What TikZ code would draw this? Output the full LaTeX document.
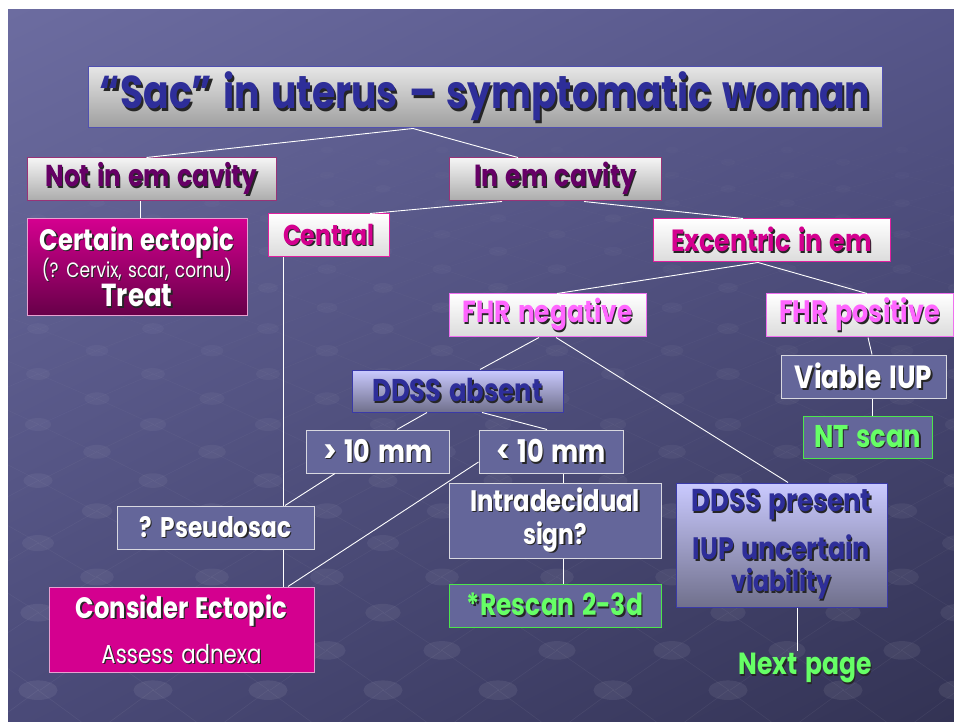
\documentclass[tikz,border=0pt]{standalone}
\usepackage{fontspec}
\setmainfont{Poppins}[WordSpace=1.4]
\usepackage{graphicx}
\usetikzlibrary{shadings}
\definecolor{bgUL}{HTML}{6C6CA0}
\definecolor{bgUR}{HTML}{56568A}
\definecolor{bgLL}{HTML}{4A4A78}
\definecolor{bgLR}{HTML}{333354}
\definecolor{titletext}{HTML}{2E2E99}
\definecolor{titleborder}{HTML}{5050B0}
\definecolor{purpletext}{HTML}{660066}
\definecolor{purpleborder}{HTML}{993377}
\definecolor{magtext}{HTML}{D4008F}
\definecolor{magborder}{HTML}{E0209F}
\definecolor{pinktext}{HTML}{FF66FF}
\definecolor{pinkborder}{HTML}{F070F0}
\definecolor{slate}{HTML}{64669A}
\definecolor{slateborder}{HTML}{D8D8E0}
\definecolor{greentext}{HTML}{66FF66}
\definecolor{greenborder}{HTML}{4CE64C}
\definecolor{ddsstop}{HTML}{CACAFF}
\definecolor{ddssbot}{HTML}{70708C}
\definecolor{ddssborder}{HTML}{3A3AA8}
\definecolor{magtop}{HTML}{D4008F}
\definecolor{magbot}{HTML}{660048}
\definecolor{lightpink}{HTML}{E8A0D0}
\newcommand\fw[2]{\resizebox{#1pt}{!}{\scalebox{1}[1.22]{#2}}}
\newcommand\sh[2]{\rlap{\kern1.1pt\raisebox{-1.1pt}{\color{black!85}#2}}{\color{#1}#2}}
\begin{document}
\begin{tikzpicture}[x=1pt,y=-1pt,
  sz/.style 2 args={minimum width=#1pt, minimum height=#2pt},
  base/.style={inner sep=0pt, align=center, line width=1pt, font=\fontsize{20}{24}\selectfont\bfseries},
  titlebox/.style={base, draw=titleborder, top color=black!10, bottom color=black!38},
  greybox/.style={base, draw=purpleborder, top color=black!4, bottom color=black!33},
  whitebox/.style={base, draw=magborder, top color=white, bottom color=black!14},
  pinkbox/.style={base, draw=pinkborder, top color=white, bottom color=black!14},
  slatebox/.style={base, draw=slateborder, fill=slate},
  greenbox/.style={base, draw=greenborder, fill=slate},
  ddssbox/.style={base, draw=ddssborder, top color=ddsstop, bottom color=ddssbot},
  magshade/.style={base, draw=lightpink, top color=magtop, bottom color=magbot},
  magsolid/.style={base, draw=lightpink, fill=magtop},
  conn/.style={draw=white, line width=0.9pt},
  bgdot/.style={fill=white},
  bgline/.style={draw=white, line width=0.6pt}
]
\useasboundingbox (0,0) rectangle (954,722);
\shade[upper left=bgUL, upper right=bgUR, lower left=bgLL, lower right=bgLR] (8,10) rectangle (954,722);

% background lattice decoration
\begin{scope}
\clip (8,10) rectangle (954,722);
\foreach \y/\ny [count=\j] in {150/162.25,162.25/175.2,175.2/188.8,188.8/203.2,203.2/218.4,218.4/234.4,234.4/251.3,251.3/269.1,269.1/287.9,287.9/307.7,307.7/328.6,328.6/350.7,350.7/374,374/398.6,398.6/424.5,424.5/451.8,451.8/480.6,480.6/511,511/543.1,543.1/577,577/612.7,612.7/650.4,650.4/690.2,690.2/732}{
  \pgfmathtruncatemacro\pp{mod(\j,2)}
  \pgfmathsetmacro\xo{\pp==0 ? 38 : 97}
  \pgfmathsetmacro\rx{0.024*\y+3}
  \pgfmathsetmacro\op{0.015+0.06*(\y-150)/570}
  \foreach \k in {-1,...,8}{
    \draw[bgline, opacity=0.8*\op] ({\xo+115*\k},\y) -- ({\xo+115*\k+57},\ny);
    \draw[bgline, opacity=0.8*\op] ({\xo+115*\k},\y) -- ({\xo+115*\k-57},\ny);
    \fill[bgdot, opacity=\op] ({\xo+115*\k},\y) ellipse [x radius=\rx pt, y radius=0.5*\rx pt];
  }
}
\end{scope}

% nodes
\node[titlebox, sz={794}{61}] (title) at (485,97.5) {\raisebox{-4pt}{\fw{770}{\sh{titletext}{“Sac” in uterus – symptomatic woman}}}};
\node[greybox, sz={249}{43}] (notin) at (151.5,179.5) {\fw{212}{\sh{purpletext}{Not in em cavity}}};
\node[greybox, sz={212}{43}] (inem) at (555,179.5) {\fw{162}{\sh{purpletext}{In em cavity}}};
\node[magshade, sz={220}{97}, font=\fontsize{20}{26.5}\selectfont\bfseries] (certain) at (137,267.5)
  {\fw{194}{\sh{white}{Certain ectopic}}\\[-3pt]\fw{190}{\mdseries\sh{white}{(? Cervix, scar, cornu)}}\\[1pt]\fw{71}{\sh{white}{Treat}}};
\node[whitebox, sz={121}{43}] (central) at (328.5,235.5) {\fw{91}{\sh{magtext}{Central}}};
\node[whitebox, sz={237}{43}] (excentric) at (771.5,240.5) {\fw{201}{\sh{magtext}{Excentric in em}}};
\node[pinkbox, sz={197}{43}] (fhrneg) at (547.5,315.5) {\fw{170}{\sh{pinktext}{FHR negative}}};
\node[pinkbox, sz={187}{43}] (fhrpos) at (859.5,315.5) {\fw{161}{\sh{pinktext}{FHR positive}}};
\node[slatebox, sz={165}{43}] (viable) at (863.5,376.5) {\fw{137}{\sh{white}{Viable IUP}}};
\node[greenbox, sz={129}{42}] (nt) at (867.5,437) {\fw{107}{\sh{greentext}{NT scan}}};
\node[ddssbox, sz={211}{42}] (ddssabs) at (457.5,391) {\fw{170}{\sh{titletext}{DDSS absent}}};
\node[slatebox, sz={143}{43}] (gt) at (377.5,451.5) {\fw{109}{\sh{white}{> 10 mm}}};
\node[slatebox, sz={144}{43}] (lt) at (551,451.5) {\fw{110}{\sh{white}{< 10 mm}}};
\node[slatebox, sz={212}{75}, font=\fontsize{20}{33}\selectfont\bfseries] (intra) at (555,520.5)
  {\fw{170}{\sh{white}{Intradecidual}}\\\fw{64}{\sh{white}{sign?}}};
\node[greenbox, sz={212}{43}] (rescan) at (555,605.5) {\fw{176}{\sh{greentext}{*Rescan 2-3d}}};
\node[ddssbox, sz={211}{124}, font=\fontsize{20}{32}\selectfont\bfseries] (ddsspres) at (781.5,545)
  {\fw{180}{\sh{titletext}{DDSS present}}\\[12pt]\fw{177}{\sh{titletext}{IUP uncertain}}\\\fw{100}{\sh{titletext}{viability}}};
\node[slatebox, sz={197}{43}] (pseudo) at (215.5,527.5) {\fw{152}{\sh{white}{? Pseudosac}}};
\node[magsolid, sz={265}{85}, font=\fontsize{20}{45}\selectfont\bfseries] (consider) at (181.5,629.5)
  {\fw{211}{\sh{white}{Consider Ectopic}}\\\fw{160}{\mdseries\sh{white}{Assess adnexa}}};
\node[base, inner sep=2pt] (nextpage) at (805,669) {\fw{133}{\sh{greentext}{Next page}}};

% connectors
\draw[conn] ([xshift=-72pt]title.south) -- ([xshift=-5pt]notin.north);
\draw[conn] ([xshift=-72pt]title.south) -- ([xshift=-37pt]inem.north);
\draw[conn] ([xshift=-11.5pt]notin.south) -- ([xshift=3pt]certain.north);
\draw[conn] ([xshift=-53pt]inem.south) -- ([xshift=41.5pt]central.north);
\draw[conn] ([xshift=29pt]inem.south) -- ([xshift=-28.5pt]excentric.north);
\draw[conn] ([xshift=-13.5pt]excentric.south) -- ([xshift=9.5pt]fhrneg.north);
\draw[conn] ([xshift=-13.5pt]excentric.south) -- ([xshift=7.5pt]fhrpos.north);
\draw[conn] ([xshift=8.5pt]fhrpos.south) -- ([xshift=8.5pt]viable.north);
\draw[conn] ([xshift=8.5pt]viable.south) -- ([xshift=4.5pt]nt.north);
\draw[conn] ([xshift=-8.5pt]fhrneg.south) -- ([xshift=22.5pt]ddssabs.north);
\draw[conn] ([xshift=8.5pt]fhrneg.south) -- ([xshift=6.5pt]ddsspres.north);
\draw[conn] ([xshift=-30.5pt]ddssabs.south) -- ([xshift=19.5pt]gt.north);
\draw[conn] ([xshift=24.5pt]ddssabs.south) -- ([xshift=-4pt]lt.north);
\draw[conn] ([xshift=12pt]lt.south) -- ([xshift=8pt]intra.north);
\draw[conn] ([xshift=8pt]intra.south) -- ([xshift=8pt]rescan.north);
\draw[conn] ([xshift=-45.5pt]central.south) -- ([xshift=67.5pt]pseudo.north);
\draw[conn] ([xshift=-42.5pt]gt.south) -- ([xshift=69.5pt]pseudo.north);
\draw[conn] ([xshift=67.5pt]pseudo.south) -- ([xshift=101.5pt]consider.north);
\draw[conn] ([yshift=-10.5pt]lt.west) -- ([xshift=106.5pt]consider.north);
\draw[conn] ([xshift=15.5pt]ddsspres.south) -- ([xshift=-8pt]nextpage.north);
\end{tikzpicture}
\end{document}
